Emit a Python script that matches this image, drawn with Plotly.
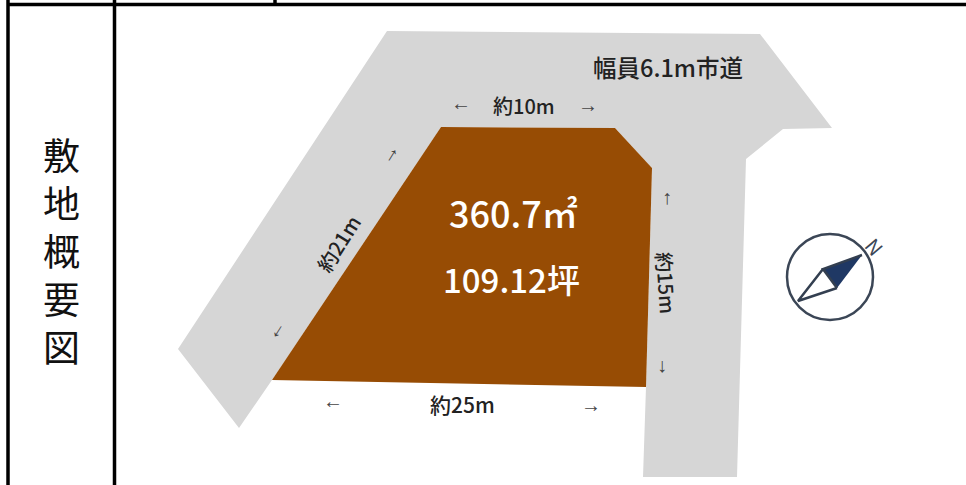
import plotly.graph_objects as go

road_x = [387, 760, 832, 783, 746, 737, 643, 646, 652, 615, 441, 272, 239, 178]
road_y = [31, 34, 128, 129, 159, 477, 477, 387, 168, 128, 127, 380, 428, 349]
lot_x = [441, 615, 652, 646, 272]
lot_y = [127, 128, 168, 387, 380]
needle_dark_x = [862, 823, 837]
needle_dark_y = [255, 269, 288]
needle_light_x = [823, 798, 837]
needle_light_y = [269, 301, 288]
side_chars = ["敷", "地", "概", "要", "図"]
FONT = "Noto Sans CJK JP"
labels = [
    ("幅員6.1m市道", 668, 67, 23.5, 0, "#222222", 500),
    ("約10m", 524, 105, 20, 0, "#222222", 500),
    ("約21m", 338, 243, 20, -58, "#222222", 500),
    ("約15m", 667, 283, 20, 86, "#222222", 500),
    ("約25m", 462, 404, 21, 0, "#222222", 500),
    ("360.7㎡", 513, 212, 36, 0, "#ffffff", 500),
    ("109.12坪", 511, 279, 33, 0, "#ffffff", 500),
    ("N", 875, 246, 20, 50, "#3b4656", 400),
]
arrows = [
    ("←", 461, 103, 0), ("→", 588, 105, 0),
    ("←", 333, 401, 0), ("→", 591, 405, 0),
    ("↑", 667, 197, 0), ("↓", 662, 365, 0),
    ("↑", 393, 154, 32), ("↓", 279, 330, 32),
]
table_lines = [
    (8, 8, 0, 485), (114.5, 114.5, 0, 485), (275, 275, 0, 4), (8, 966, 4.5, 4.5),
]

fig = go.Figure()
fig.add_trace(go.Scatter(x=road_x, y=road_y, fill="toself", mode="none", fillcolor="#d6d6d6"))
fig.add_trace(go.Scatter(x=lot_x, y=lot_y, fill="toself", mode="none", fillcolor="#974c04"))
fig.add_trace(go.Scatter(x=needle_light_x, y=needle_light_y, fill="toself", mode="lines",
                         fillcolor="#ffffff", line=dict(color="#333f50", width=2.5)))
fig.add_trace(go.Scatter(x=needle_dark_x, y=needle_dark_y, fill="toself", mode="lines",
                         fillcolor="#1f3864", line=dict(color="#333f50", width=2.5)))
for x0, x1, y0, y1 in table_lines:
    fig.add_trace(go.Scatter(x=[x0, x1], y=[y0, y1], mode="lines",
                             line=dict(color="#000000", width=3.5)))

shapes = [dict(type="circle", xref="x", yref="y", x0=787, x1=873, y0=234, y1=320,
               line=dict(color="#3b4656", width=2.5), fillcolor="rgba(0,0,0,0)")]
ann = [dict(x=61, y=250, text="<br>".join(side_chars), showarrow=False, xref="x", yref="y",
            font=dict(family=FONT, size=37, color="#111111"))]
for t, x, y, s, r, c, w in labels:
    ann.append(dict(x=x, y=y, text=t, textangle=r, showarrow=False, xref="x", yref="y",
                    font=dict(family=FONT, size=s, color=c, weight=w)))
for t, x, y, r in arrows:
    ann.append(dict(x=x, y=y, text=t, textangle=r, showarrow=False, xref="x", yref="y",
                    font=dict(family="Liberation Sans", size=20, color="#444444")))

fig.update_layout(
    width=966, height=485, margin=dict(l=0, r=0, t=0, b=0), showlegend=False,
    paper_bgcolor="#ffffff", plot_bgcolor="#ffffff", shapes=shapes, annotations=ann,
    xaxis=dict(range=[0, 966], visible=False, fixedrange=True),
    yaxis=dict(range=[485, 0], visible=False, fixedrange=True),
)
fig.write_html("out.html", config={"displayModeBar": False},
               post_script="document.body.style.margin='0';")
